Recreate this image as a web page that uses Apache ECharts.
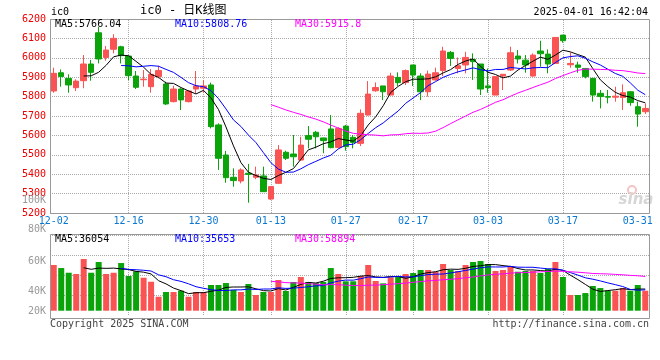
<!DOCTYPE html>
<html><head><meta charset="utf-8">
<script src="https://cdn.jsdelivr.net/npm/echarts@6/dist/echarts.min.js"></script>
<style>html,body{margin:0;padding:0;background:#fff}#c{width:660px;height:360px}</style>
</head><body><div id="c"></div>
<script>
// ---------- data ----------
const dates = [
 '12-02','12-03','12-04','12-05','12-06','12-09','12-10','12-11','12-12','12-13',
 '12-16','12-17','12-18','12-19','12-20','12-23','12-24','12-25','12-26','12-27',
 '12-30','12-31','01-02','01-03','01-06','01-07','01-08','01-09','01-10','01-13',
 '01-14','01-15','01-16','01-17','01-20','01-21','01-22','01-23','01-24','01-27',
 '02-05','02-06','02-07','02-10','02-11','02-12','02-13','02-14','02-17','02-18',
 '02-19','02-20','02-21','02-24','02-25','02-26','02-27','02-28','03-03','03-04',
 '03-05','03-06','03-07','03-10','03-11','03-12','03-13','03-14','03-17','03-18',
 '03-19','03-20','03-21','03-24','03-25','03-26','03-27','03-28','03-31','04-01'];
const opens = [
 5829,5923,5894,5846,5882,5968,6129,6002,6044,6057,
 6009,5906,5887,5851,5903,5865,5774,5839,5774,5839,
 5843,5860,5654,5499,5384,5365,5405,5384,5391,5272,
 5353,5513,5504,5473,5599,5616,5587,5633,5538,5648,
 5590,5559,5705,5830,5855,5808,5899,5872,5963,5906,
 5825,5886,5934,6028,5945,5963,5992,5968,5855,5808,
 5906,5937,6009,5988,5906,6035,6019,5971,6117,5964,
 5963,5945,5894,5817,5800,5797,5796,5825,5748,5722];
const closes = [
 5920,5903,5860,5880,5968,5925,5994,6040,6100,6011,
 5908,5848,5890,5915,5934,5762,5839,5783,5829,5855,
 5855,5645,5482,5382,5367,5422,5399,5396,5310,5336,
 5525,5482,5490,5550,5580,5593,5573,5537,5636,5542,
 5564,5714,5813,5847,5825,5906,5872,5934,5911,5825,
 5916,5923,6035,5997,5959,6002,5980,5839,5846,5903,
 5915,6026,5994,5963,6014,6021,5968,6105,6088,5971,
 5951,5903,5808,5800,5797,5802,5820,5769,5710,5739];
const lows = [
 5820,5851,5820,5829,5843,5882,5971,5985,6023,5971,
 5885,5839,5851,5820,5894,5757,5770,5731,5770,5817,
 5820,5636,5422,5356,5336,5353,5253,5374,5310,5267,
 5349,5473,5439,5470,5533,5533,5508,5533,5533,5521,
 5533,5545,5702,5825,5782,5808,5855,5860,5855,5782,
 5800,5882,5906,5958,5920,5920,5886,5808,5820,5808,
 5834,5933,5971,5923,5903,5954,5920,5968,6078,5949,
 5923,5894,5774,5739,5765,5774,5731,5753,5645,5710];
const highs = [
 5949,5940,5915,5889,6014,5989,6160,6061,6122,6062,
 6009,5932,5937,5942,5959,5877,5856,5843,5834,5932,
 5885,5872,5662,5520,5430,5430,5453,5439,5439,5336,
 5550,5521,5602,5593,5648,5623,5587,5705,5642,5654,
 5602,5734,5880,5873,5855,5923,5925,5940,5963,5920,
 5934,5949,6057,6035,6002,6031,6023,5968,5945,5903,
 5915,6057,6040,6014,6023,6088,6043,6105,6117,6028,
 5980,5945,5894,5834,5834,5851,5863,5829,5774,5765];
const volumes = [
 76800,71700,63800,61700,86900,63800,81800,61700,63800,80100,
 58300,66200,55400,48700,23500,31400,31400,33600,23500,31400,
 31400,43200,43200,46500,34800,31400,44900,26400,31400,31400,
 51600,33100,48200,56600,48200,46500,48200,71700,61700,49400,
 49400,58300,76800,49900,46000,56100,58300,61700,63300,68400,
 68400,65500,78500,68400,66700,76800,81800,83500,78500,66700,
 68400,75100,65500,66700,66700,63300,70100,81800,56600,26400,
 26400,29700,41500,38100,33600,33600,38100,33600,43200,33600];
const labelDates = ['12-02','12-16','12-30','01-13','01-27','02-17','03-03','03-17','03-31'];
const gridDates  = ['12-16','12-30','01-13','01-27','02-17','03-03','03-17'];
const priceMA = ['MA5:5766.04','MA10:5808.76','MA30:5915.8'];
const volMA   = ['MA5:36054','MA10:35653','MA30:58894'];
const volTickLabels = ['100K','80K','60K','40K','20K'];

// ---------- helpers ----------
function movingAverage(arr, n) {
  return arr.map((_, i) => {
    if (i < n - 1) return '-';
    let s = 0;
    for (let k = i - n + 1; k <= i; k++) s += arr[k];
    return +(s / n).toFixed(2);
  });
}
const RED = '#fa5353', GREEN = '#0aa30a';
const MA_COLORS = ['#000000', '#0000ff', '#ff00ff'];
const FONT = '"DejaVu Sans Mono","Liberation Mono",monospace';
const candleData = dates.map((d, i) => [opens[i], closes[i], lows[i], highs[i]]);
const volData = volumes.map((v, i) => ({value: v, itemStyle: {color: closes[i] >= opens[i] ? RED : GREEN}}));
const vline = {
  z: 1, silent: true, symbol: ['none', 'none'], animation: false,
  label: {show: false}, emphasis: {disabled: true},
  lineStyle: {type: 'dotted', color: '#aaa', width: 1},
  data: gridDates.map(d => ({xAxis: d}))
};
function maSeries(src, n, color, xi, yi) {
  return {type: 'line', xAxisIndex: xi, yAxisIndex: yi, data: movingAverage(src, n),
    symbol: 'none', showSymbol: false, silent: true, z: 4,
    lineStyle: {width: 1, color: color}, itemStyle: {color: color}};
}
function txt(text, x, y, color, align, size, family) {
  return {type: 'text', z: 50, silent: true, style: {
    text: text, x: x, y: y, fill: color, font: (size || 10) + 'px ' + (family || FONT),
    align: align || 'left', verticalAlign: 'middle',
    textAlign: align || 'left', textVerticalAlign: 'middle'}};
}

const chart = echarts.init(document.getElementById('c'), null, {renderer: 'canvas'});
chart.setOption({
  animation: false,
  backgroundColor: '#ffffff',
  grid: [
    {left: 50, top: 19, width: 599, height: 194},
    {left: 50, top: 235, width: 599, height: 80}
  ],
  xAxis: [
    {type: 'category', gridIndex: 0, data: dates, boundaryGap: true,
     axisLine: {show: false}, axisTick: {show: false}, splitLine: {show: false},
     axisLabel: {interval: (i, v) => labelDates.includes(v), color: '#0a78d2',
       fontFamily: FONT, fontSize: 10, margin: 3, hideOverlap: false}},
    {type: 'category', gridIndex: 1, data: dates, boundaryGap: true,
     axisLine: {show: false}, axisTick: {show: false}, axisLabel: {show: false}, splitLine: {show: false}}
  ],
  yAxis: [
    {type: 'value', gridIndex: 0, min: 5200, max: 6200, interval: 100,
     axisLine: {show: false}, axisTick: {show: false},
     axisLabel: {color: '#ee0000', fontFamily: FONT, fontSize: 10, margin: 4, padding: [0, 0, 4, 0],
       formatter: v => String(v)},
     splitLine: {lineStyle: {type: 'dotted', color: '#aaa', width: 1}}},
    {type: 'value', gridIndex: 1, min: -7200, max: 127200,
     axisLine: {show: false}, axisTick: {show: false}, axisLabel: {show: false}, splitLine: {show: false}},
    {type: 'value', gridIndex: 1, min: 0, max: 4, interval: 1, position: 'left',
     axisLine: {show: false}, axisTick: {show: false}, axisLabel: {show: false},
     splitLine: {show: true, showMinLine: false, lineStyle: {type: 'dotted', color: '#aaa', width: 1}}}
  ],
  series: [
    {type: 'candlestick', xAxisIndex: 0, yAxisIndex: 0, data: candleData, barWidth: 6, z: 3,
     itemStyle: {color: RED, color0: GREEN, borderColor: RED, borderColor0: GREEN, borderWidth: 1},
     markLine: vline},
    maSeries(closes, 5, MA_COLORS[0], 0, 0),
    maSeries(closes, 10, MA_COLORS[1], 0, 0),
    maSeries(closes, 30, MA_COLORS[2], 0, 0),
    {type: 'bar', xAxisIndex: 1, yAxisIndex: 1, data: volData, barWidth: 6, z: 3, markLine: vline},
    maSeries(volumes, 5, MA_COLORS[0], 1, 1),
    maSeries(volumes, 10, MA_COLORS[1], 1, 1),
    maSeries(volumes, 30, MA_COLORS[2], 1, 1)
  ],
  graphic: [
    {type: 'rect', z: 40, silent: true, shape: {x: 50.5, y: 19.5, width: 599, height: 194},
     style: {fill: 'none', stroke: '#999', lineWidth: 1}},
    {type: 'rect', z: 40, silent: true, shape: {x: 50.5, y: 234.5, width: 599, height: 84},
     style: {fill: 'none', stroke: '#999', lineWidth: 1}},
    txt('ic0', 51, 12, '#000', 'left', 10),
    txt('ic0 - 日K线图', 140, 11, '#000', 'left', 12, '"DejaVu Sans Mono","Noto Sans CJK SC",monospace'),
    txt('2025-04-01 16:42:04', 648, 12, '#000', 'right', 10),
    txt(priceMA[0], 55, 24, MA_COLORS[0], 'left', 10),
    txt(priceMA[1], 175, 24, MA_COLORS[1], 'left', 10),
    txt(priceMA[2], 295, 24, MA_COLORS[2], 'left', 10),
    txt(volMA[0], 55, 239, MA_COLORS[0], 'left', 10),
    txt(volMA[1], 175, 239, MA_COLORS[1], 'left', 10),
    txt(volMA[2], 295, 239, MA_COLORS[2], 'left', 10),
    txt(volTickLabels[0], 46, 200, '#999', 'right', 10),
    txt(volTickLabels[1], 46, 229, '#999', 'right', 10),
    txt(volTickLabels[2], 46, 261, '#999', 'right', 10),
    txt(volTickLabels[3], 46, 291, '#999', 'right', 10),
    txt(volTickLabels[4], 46, 311, '#999', 'right', 10),
    txt('Copyright 2025 SINA.COM', 50, 324, '#444', 'left', 10),
    txt('http://finance.sina.com.cn', 649, 324, '#444', 'right', 10),
    {type: 'circle', z: 5, silent: true, shape: {cx: 632, cy: 190, r: 4},
     style: {fill: 'none', stroke: '#f3c4c4', lineWidth: 2}},
    {type: 'text', z: 5, silent: true, style: {text: 'sina', x: 636, y: 200,
      fill: '#d6d6d6', font: 'italic bold 15px "DejaVu Sans",sans-serif',
      align: 'center', verticalAlign: 'middle', textAlign: 'center', textVerticalAlign: 'middle'}}
  ]
});
</script></body></html>
